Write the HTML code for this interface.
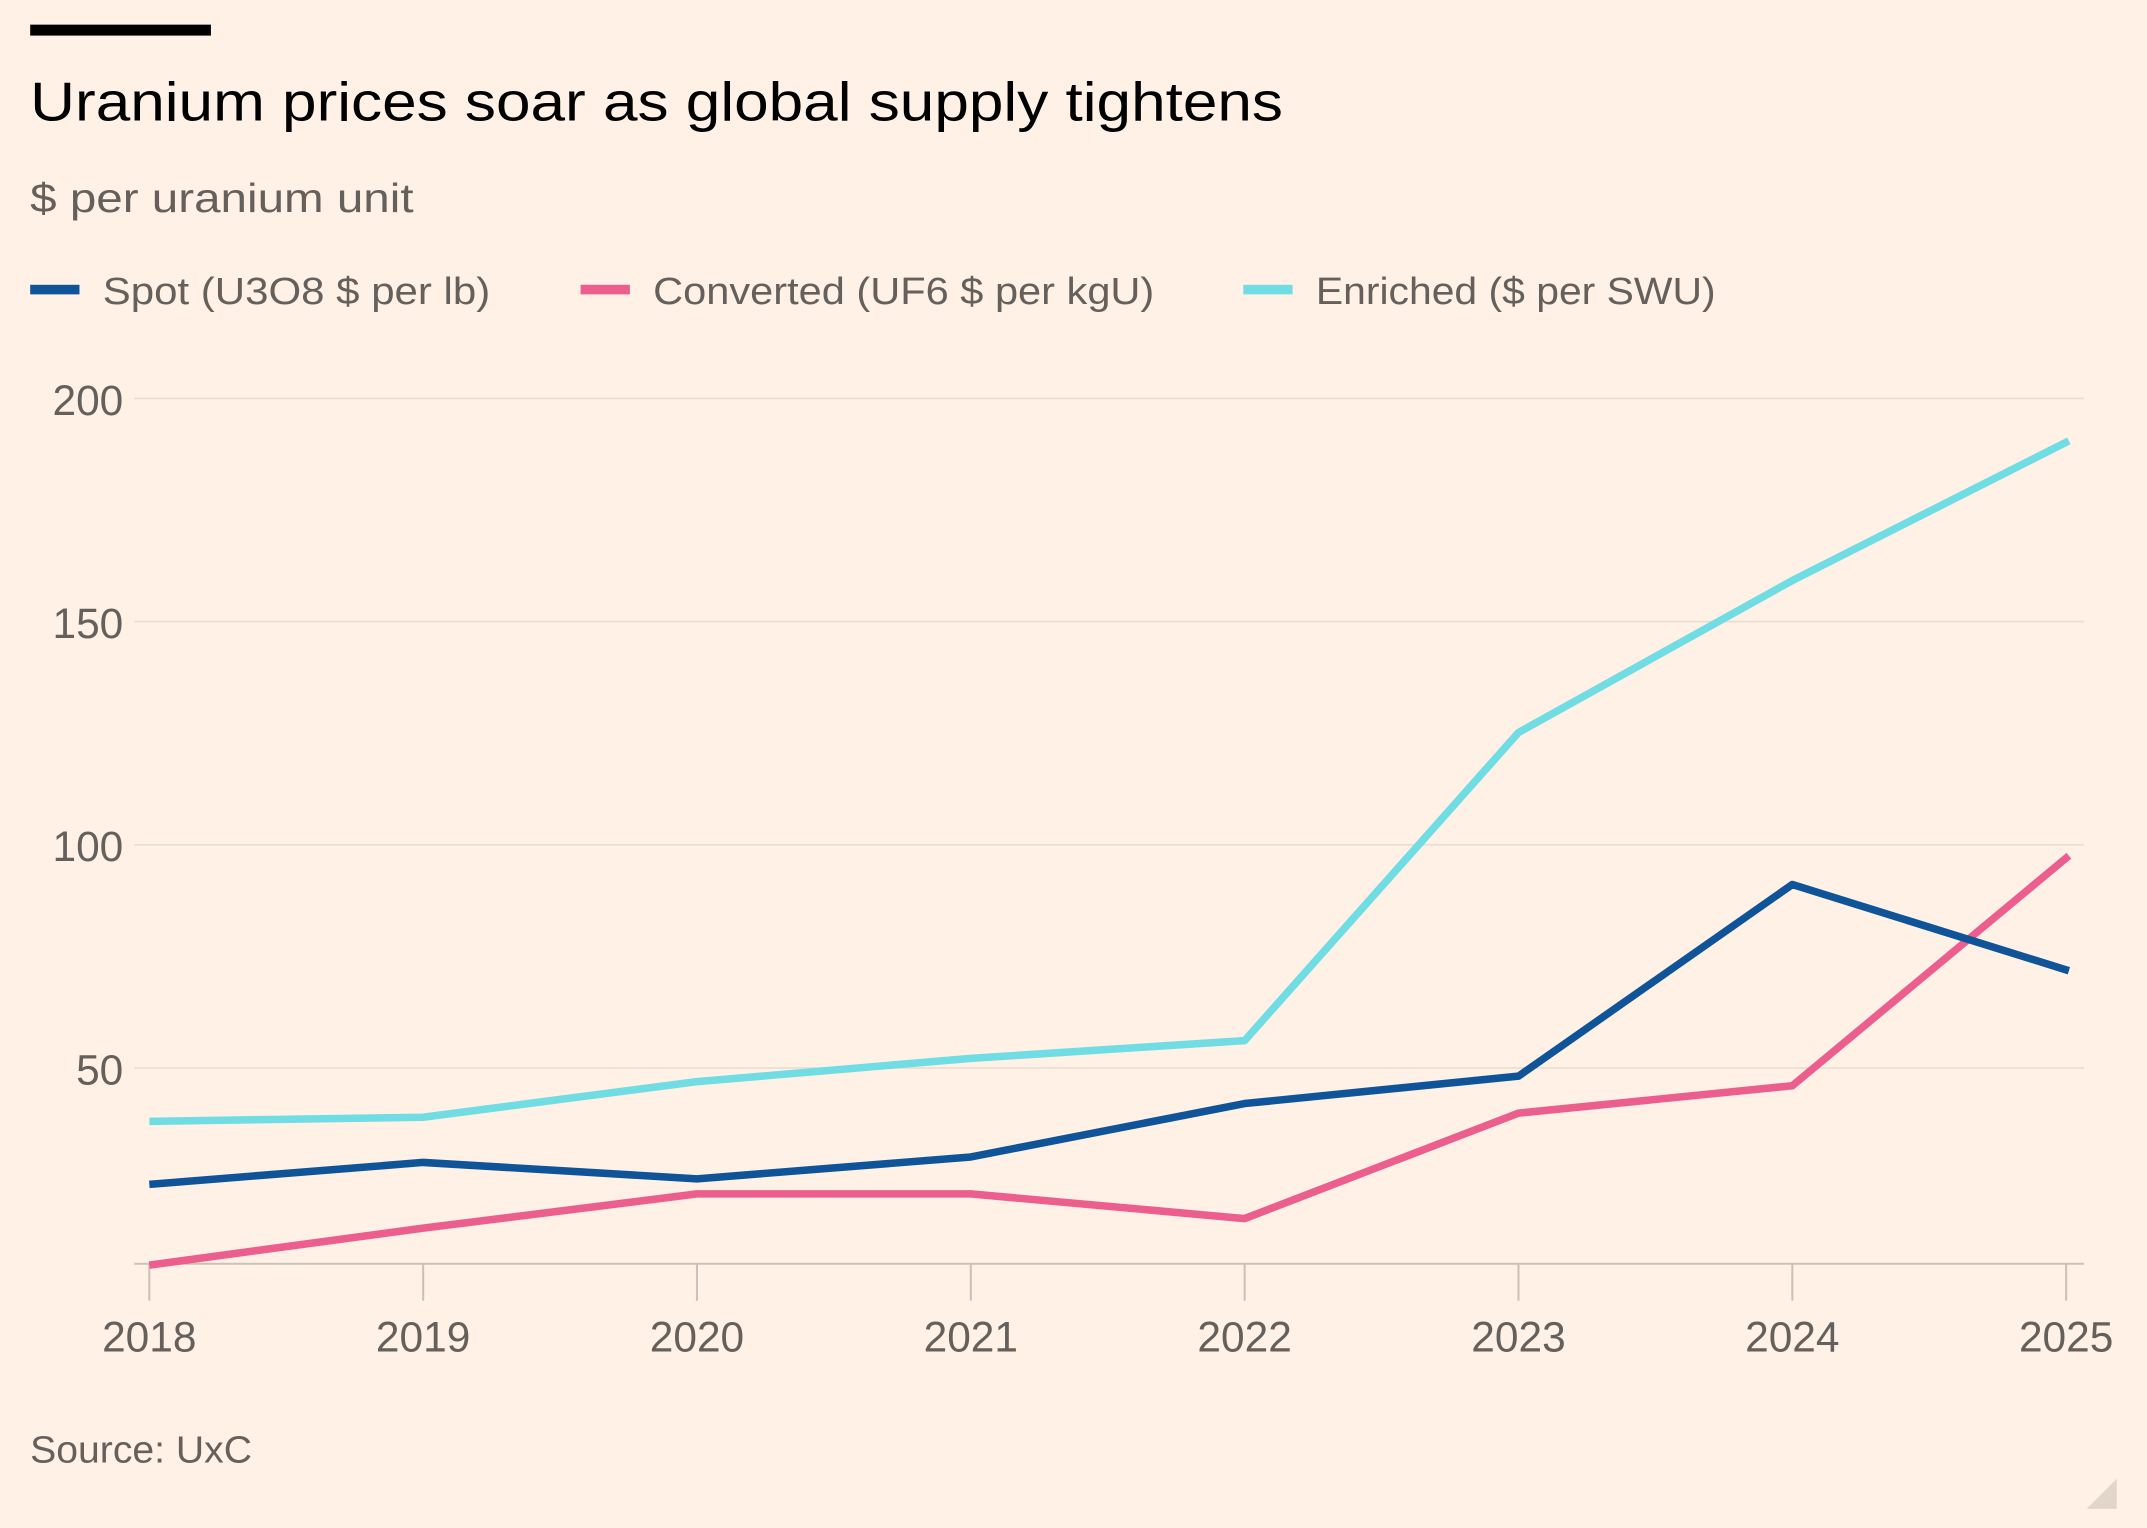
<!DOCTYPE html>
<html><head><meta charset="utf-8"><style>
html,body{margin:0;padding:0;background:#fff1e5;}
svg{display:block;}
text{font-family:"Liberation Sans",sans-serif;}
</style></head><body>
<svg width="2147" height="1528" viewBox="0 0 1568 1116" xmlns="http://www.w3.org/2000/svg">
<rect width="1568" height="1116" fill="#fff1e5"/>
<rect x="22" y="18" width="132" height="8" fill="#000"/>
<text x="22" y="88" font-size="40" fill="#000" textLength="915" lengthAdjust="spacingAndGlyphs">Uranium prices soar as global supply tightens</text>
<text x="22" y="155" font-size="30" fill="#66605c" textLength="280" lengthAdjust="spacingAndGlyphs">$ per uranium unit</text>
<g font-size="28" fill="#66605c">
<rect x="22" y="208" width="36" height="7" fill="#0f5499"/>
<text x="75" y="222" textLength="283" lengthAdjust="spacingAndGlyphs">Spot (U3O8 $ per lb)</text>
<rect x="424" y="208" width="36" height="7" fill="#eb5e8d"/>
<text x="477" y="222" textLength="366" lengthAdjust="spacingAndGlyphs">Converted (UF6 $ per kgU)</text>
<rect x="908" y="208" width="36" height="7" fill="#70dce3"/>
<text x="961" y="222" textLength="292" lengthAdjust="spacingAndGlyphs">Enriched ($ per SWU)</text>
</g>
<g stroke="#e9dcd1" stroke-width="1.2">
<line x1="98" x2="1522" y1="291" y2="291"/>
<line x1="98" x2="1522" y1="454" y2="454"/>
<line x1="98" x2="1522" y1="617" y2="617"/>
<line x1="98" x2="1522" y1="780" y2="780"/>
</g>
<g font-size="31" fill="#66605c" text-anchor="end">
<text x="90" y="303">200</text>
<text x="90" y="466">150</text>
<text x="90" y="629">100</text>
<text x="90" y="792">50</text>
</g>
<g stroke="#ccc1b7" stroke-width="1.5">
<line x1="98" x2="1522" y1="923" y2="923"/>
<line x1="109" x2="109" y1="923" y2="950"/>
<line x1="309" x2="309" y1="923" y2="950"/>
<line x1="509" x2="509" y1="923" y2="950"/>
<line x1="709" x2="709" y1="923" y2="950"/>
<line x1="909" x2="909" y1="923" y2="950"/>
<line x1="1109" x2="1109" y1="923" y2="950"/>
<line x1="1309" x2="1309" y1="923" y2="950"/>
<line x1="1509" x2="1509" y1="923" y2="950"/>
</g>
<g font-size="31" fill="#66605c" text-anchor="middle">
<text x="109" y="987">2018</text><text x="309" y="987">2019</text><text x="509" y="987">2020</text><text x="709" y="987">2021</text>
<text x="909" y="987">2022</text><text x="1109" y="987">2023</text><text x="1309" y="987">2024</text><text x="1509" y="987">2025</text>
</g>
<g fill="none" stroke-width="5.5" stroke-linejoin="round">
<polyline stroke="#70dce3" points="109,819 309,816 509,790 709,773 909,760 1109,535 1309,424 1511,322"/>
<polyline stroke="#eb5e8d" points="109,924 309,897 509,872 709,872 909,890 1109,813 1309,793 1511,625"/>
<polyline stroke="#0f5499" points="109,865 309,849 509,861 709,845 909,806 1109,786 1309,646 1511,709"/>
</g>
<text x="22" y="1068" font-size="28" fill="#66605c" textLength="162" lengthAdjust="spacingAndGlyphs">Source: UxC</text>
<polygon points="1546,1102 1546,1080 1524,1102" fill="#e2d6cb"/>
</svg>
</body></html>
